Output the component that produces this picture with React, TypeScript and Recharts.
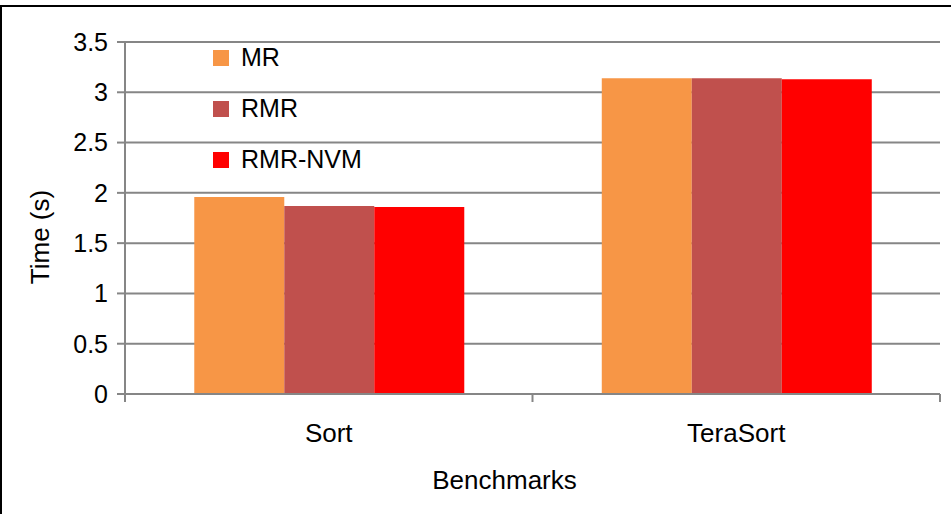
import React from 'react';
import {
  BarChart,
  Bar,
  XAxis,
  YAxis,
  CartesianGrid,
  Legend,
} from 'recharts';

// benchmark categories and run times (seconds) per system
const benchmarks = ['Sort', 'TeraSort'];
const mrTimes = [1.96, 3.14];
const rmrTimes = [1.87, 3.14];
const rmrNvmTimes = [1.86, 3.13];
const yTicks = [0, 0.5, 1, 1.5, 2, 2.5, 3, 3.5];

const series = [
  { key: 'MR', color: '#F79646' },
  { key: 'RMR', color: '#C0504D' },
  { key: 'RMR-NVM', color: '#FF0000' },
];

const data = benchmarks.map((name, i) => ({
  name,
  MR: mrTimes[i],
  RMR: rmrTimes[i],
  'RMR-NVM': rmrNvmTimes[i],
}));

const WIDTH = 951;
const HEIGHT = 514;
const MARGIN = { top: 42, right: 11, bottom: 10, left: 0 };
const Y_AXIS_WIDTH = 125;
const X_AXIS_HEIGHT = 110;
const AXIS_COLOR = '#868686';
const FONT = 'Liberation Sans, Arial, Helvetica, sans-serif';

const plotWidth = WIDTH - MARGIN.left - MARGIN.right - Y_AXIS_WIDTH;
const bandWidth = plotWidth / benchmarks.length;

// category label centred under each group, tick marks on the group boundaries
function CategoryTick(props: any) {
  const { x, y, payload, index } = props;
  const top = y - 8;
  const left = x - bandWidth / 2;
  const right = x + bandWidth / 2;
  return (
    <g>
      <line x1={left} y1={top} x2={left} y2={y} stroke={AXIS_COLOR} strokeWidth={2} />
      {index === benchmarks.length - 1 && (
        <line x1={right} y1={top} x2={right} y2={y} stroke={AXIS_COLOR} strokeWidth={2} />
      )}
      <text
        x={x}
        y={y + 40}
        textAnchor="middle"
        fill="#000"
        fontSize={26}
        fontFamily={FONT}
      >
        {payload.value}
      </text>
    </g>
  );
}

function LegendBox() {
  return (
    <div style={styles.legend}>
      {series.map((s) => (
        <div key={s.key} style={styles.legendRow}>
          <span style={{ ...styles.swatch, background: s.color }} />
          <span>{s.key}</span>
        </div>
      ))}
    </div>
  );
}

export default function App() {
  return (
    <div style={styles.page}>
      <div style={styles.frame} />
      <BarChart
        width={WIDTH}
        height={HEIGHT}
        data={data}
        margin={MARGIN}
        barCategoryGap="17%"
        barGap={0}
      >
        <CartesianGrid vertical={false} stroke={AXIS_COLOR} strokeWidth={2} />
        <XAxis
          dataKey="name"
          height={X_AXIS_HEIGHT}
          axisLine={{ stroke: AXIS_COLOR, strokeWidth: 2 }}
          tickLine={false}
          tickSize={8}
          tickMargin={0}
          tick={<CategoryTick />}
          interval={0}
          label={({ viewBox }: any) => (
            <text
              x={viewBox.x + viewBox.width / 2 - 28}
              y={489}
              textAnchor="middle"
              fill="#000"
              fontSize={26}
              fontFamily={FONT}
            >
              Benchmarks
            </text>
          )}
        />
        <YAxis
          width={Y_AXIS_WIDTH}
          domain={[0, 3.5]}
          ticks={yTicks}
          interval={0}
          axisLine={{ stroke: AXIS_COLOR, strokeWidth: 2 }}
          tickLine={{ stroke: AXIS_COLOR, strokeWidth: 2 }}
          tickSize={8}
          tickMargin={9}
          tick={{ fill: '#000', fontSize: 25, fontFamily: FONT }}
          label={() => (
            <text
              x={40}
              y={237}
              transform="rotate(-90, 40, 237)"
              textAnchor="middle"
              dominantBaseline="central"
              fill="#000"
              fontSize={26}
              fontFamily={FONT}
            >
              Time (s)
            </text>
          )}
        />
        <Legend
          layout="vertical"
          align="center"
          verticalAlign="middle"
          content={<LegendBox />}
          wrapperStyle={{ top: 32, left: 213, width: 200, height: 160 }}
        />
        {series.map((s) => (
          <Bar key={s.key} dataKey={s.key} fill={s.color} isAnimationActive={false} />
        ))}
      </BarChart>
    </div>
  );
}

const styles: Record<string, React.CSSProperties> = {
  page: {
    position: 'absolute',
    left: 0,
    top: 0,
    width: WIDTH,
    height: HEIGHT,
    background: '#fff',
    overflow: 'hidden',
  },
  frame: {
    position: 'absolute',
    left: 0,
    top: 5,
    width: WIDTH,
    height: HEIGHT,
    borderTop: '2px solid #000',
    borderLeft: '2px solid #000',
    boxSizing: 'border-box',
  },
  legend: {
    fontFamily: FONT,
    fontSize: 25,
    color: '#000',
  },
  legendRow: {
    display: 'flex',
    alignItems: 'center',
    height: 51,
  },
  swatch: {
    display: 'inline-block',
    width: 16,
    height: 16,
    marginRight: 12,
  },
};
